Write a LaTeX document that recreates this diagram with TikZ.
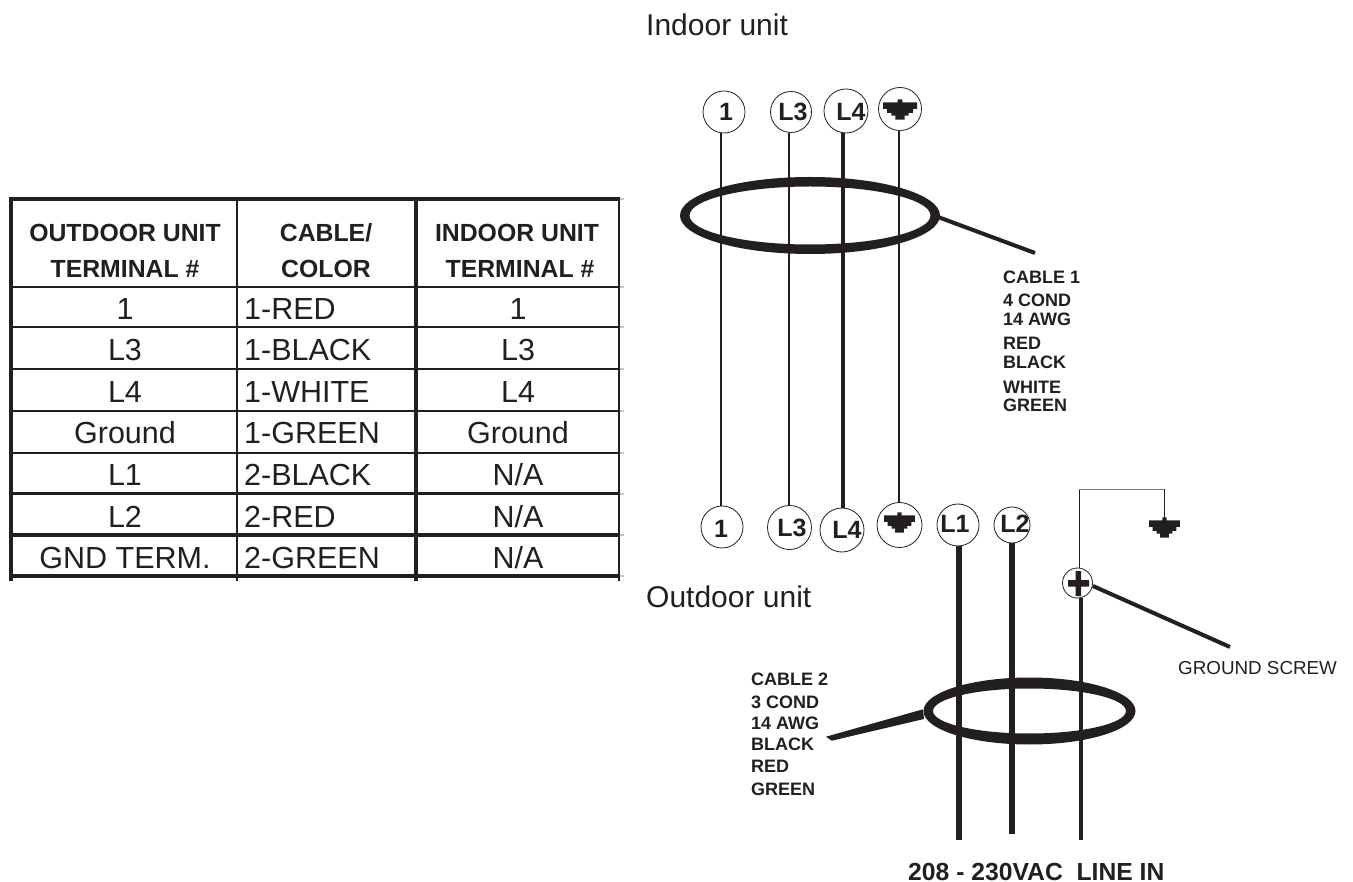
\documentclass[tikz,border=0pt]{standalone}
\usepackage{fontspec}
\setmainfont{Liberation Sans}
\definecolor{ink}{HTML}{231F20}
\definecolor{stub}{HTML}{C4C6C8}
\newcommand{\notapp}{N/A}
\tikzset{
  term/.style={draw=ink,line width=0.8pt,circle,inner sep=0pt},
  termtext/.style={inner sep=0pt,text=ink,font=\fontsize{25}{25}\selectfont\bfseries},
  wirethin/.style={draw=ink,line width=2pt},
  wiremid/.style={draw=ink,line width=4pt},
  wirethick/.style={draw=ink,line width=6pt},
  cablelabel/.style={anchor=west,inner sep=0pt,text=ink,font=\fontsize{18}{18}\selectfont\bfseries},
  titlelabel/.style={anchor=west,inner sep=0pt,text=ink,font=\fontsize{30}{30}\selectfont},
  headcell/.style={inner sep=0pt,text=ink,font=\fontsize{24.8}{24.8}\selectfont\bfseries},
  bodycell/.style={inner sep=0pt,text=ink,font=\fontsize{30.5}{30.5}\selectfont},
  gsym/.pic={\fill[ink] (-17,-6.7) -- (-2.3,-6.7) -- (-2.3,-9.7) -- (2.3,-9.7) -- (2.3,-6.7) -- (17,-6.7) -- (17,0) -- (13,0) -- (13,4) -- (8.7,4) -- (8.7,6.7) -- (4.7,6.7) -- (4.7,10.7) -- (-4.7,10.7) -- (-4.7,6.7) -- (-8.7,6.7) -- (-8.7,4) -- (-13,4) -- (-13,0) -- (-17,0) -- cycle;}
}
\begin{document}
\begin{tikzpicture}[x=1pt,y=-1pt]
\useasboundingbox (0,0) rectangle (1353,882);
% titles
\node[titlelabel] (indoor) at (646,25) {Indoor unit};
\node[titlelabel] (outdoor) at (646,597) {Outdoor unit};
% table
\foreach \yy in {199,287,327,369,411,453,494,535,576}
  \draw[draw=stub,line width=2pt] (615,\yy) -- (624,\yy);
\foreach \yy/\w in {199/3.5,287/2,327/2,369/2,411/2,453/2.5,494/3,535/3.5,576/4}
  \draw[draw=ink,line width=\w pt] (9.5,\yy) -- (619.5,\yy);
\draw[draw=ink,line width=3.5pt] (11,197) -- (11,581);
\draw[draw=ink,line width=1.7pt] (237.3,197) -- (237.3,581);
\draw[draw=ink,line width=3.5pt] (416,197) -- (416,581);
\draw[draw=ink,line width=1.5pt] (619,197) -- (619,581);
\node[headcell] (h1) at (125,232.7) {OUTDOOR UNIT};
\node[headcell] (h2) at (326,232.7) {CABLE/};
\node[headcell] (h3) at (517,232.7) {INDOOR UNIT};
\node[headcell] (h4) at (125,269) {TERMINAL \#};
\node[headcell] (h5) at (326,269) {COLOR};
\node[headcell] (h6) at (520,269) {TERMINAL \#};
\foreach \yy/\a/\b/\c in {309/1/1-RED/1,350/L3/1-BLACK/L3,391.7/L4/1-WHITE/L4,433/Ground/1-GREEN/Ground,475/L1/2-BLACK/\notapp,516.7/L2/2-RED/\notapp,557.7/GND TERM./2-GREEN/\notapp}{
  \node[bodycell] at (125,\yy) {\a};
  \node[bodycell,anchor=west] at (244,\yy) {\b};
  \node[bodycell] at (518,\yy) {\c};
}
% indoor terminals
\node[term,minimum size=42pt] (t1) at (724,112) {};
\node[term,minimum size=41pt] (t3) at (791,112) {};
\node[term,minimum size=44pt] (t4) at (846,111) {};
\node[term,minimum size=43pt] (tg) at (900,109) {};
\node[termtext] (tt1) at (726,112) {1};
\node[termtext] (tt3) at (793,112) {L3};
\node[termtext] (tt4) at (851,112) {L4};
\pic at (900,109) {gsym};
% outdoor terminals
\node[term,minimum size=42pt] (b1) at (722,527) {};
\node[term,minimum size=44pt] (b3) at (789.5,527.5) {};
\node[term,minimum size=44pt] (b4) at (842,530) {};
\node[term,minimum size=45pt] (bg) at (899.5,525) {};
\node[term,minimum size=42pt] (b5) at (958,525) {};
\node[term,minimum size=36pt] (b6) at (1012,525) {};
\node[termtext] (bt1) at (721,529) {1};
\node[termtext] (bt3) at (792,528) {L3};
\node[termtext] (bt4) at (847,530) {L4};
\node[termtext] (bt5) at (955,524) {L1};
\node[termtext] (bt6) at (1015,524) {L2};
\pic[xscale=.91] at (899.5,522) {gsym};
% conductors of cable 1
\draw[wirethin] ([xshift=-3]t1.south) -- ([xshift=-1]b1.north);
\draw[wirethin] ([xshift=-2]t3.south) -- ([xshift=-0.5]b3.north);
\draw[wiremid] ([xshift=-3.3]t4.south) -- ([xshift=0.7]b4.north);
\draw[wirethin] ([xshift=-1]tg.south) -- ([xshift=-0.5]bg.north);
% cable 1 ring
\fill[ink,even odd rule] (810,215.5) ellipse [x radius=130,y radius=38.5] (810,215.5) ellipse [x radius=120.5,y radius=29];
\coordinate (c1a) at (938,217);
\coordinate (c1b) at (1035,253);
\draw[wiremid] (c1a) -- (c1b);
% cable 1 label
\node[cablelabel] (l1) at (1003,277) {CABLE 1};
\node[cablelabel] (l2) at (1003,300.5) {4 COND};
\node[cablelabel] (l3) at (1003,319) {14 AWG};
\node[cablelabel] (l4) at (1003,343) {RED};
\node[cablelabel] (l5) at (1003,362) {BLACK};
\node[cablelabel] (l6) at (1003,387.5) {WHITE};
\node[cablelabel] (l7) at (1003,405.5) {GREEN};
% cable 2
\coordinate (e1) at (959,840);
\coordinate (e2) at (1012,834);
\coordinate (e3) at (1081,840);
\draw[wirethick] ([xshift=1]b5.south) -- (e1);
\draw[wirethick] (b6.south) -- (e2);
\fill[ink,even odd rule] (1029.5,711) ellipse [x radius=106,y radius=33.5] (1029.5,711) ellipse [x radius=96.5,y radius=22.5];
\fill[ink] (923,709.3) -- (924,719) -- (831.7,740.7) -- (826,736.7) -- cycle;
\node[cablelabel] (m1) at (751,679) {CABLE 2};
\node[cablelabel] (m2) at (751,702.5) {3 COND};
\node[cablelabel] (m3) at (751,723) {14 AWG};
\node[cablelabel] (m4) at (751,744) {BLACK};
\node[cablelabel] (m5) at (751,766) {RED};
\node[cablelabel] (m6) at (751,789) {GREEN};
% ground screw
\node[term,minimum size=30pt] (sc) at (1077.5,583) {};
\fill[ink] (1075.5,571) rectangle (1081,596) (1068,580) rectangle (1089,586.7);
\draw[wiremid] ([xshift=3.5]sc.south) -- (e3);
\coordinate (g1) at (1079,489.5);
\coordinate (g2) at (1164,489.5);
\pic[xscale=.91] at (1164.5,527) {gsym};
\draw[draw=ink,line width=0.8pt] ([xshift=1.5]sc.north) -- (g1);
\draw[draw=ink!60,line width=0.8pt] (g1) -- (g2);
\draw[draw=ink,line width=0.8pt] (g2) -- (1164,520);
\coordinate (s2) at (1230,647);
\draw[wiremid] (sc.east) ++(0,3) -- (s2);
\node[cablelabel,font=\fontsize{18.8}{18.8}\selectfont] (gs) at (1178,668) {GROUND SCREW};
\node[anchor=west,inner sep=0pt,text=ink,text depth=0pt,font=\fontsize{24.7}{24.7}\selectfont\bfseries] (line) at (908,872) {208 - 230VAC\ \ LINE IN};
\end{tikzpicture}
\end{document}
